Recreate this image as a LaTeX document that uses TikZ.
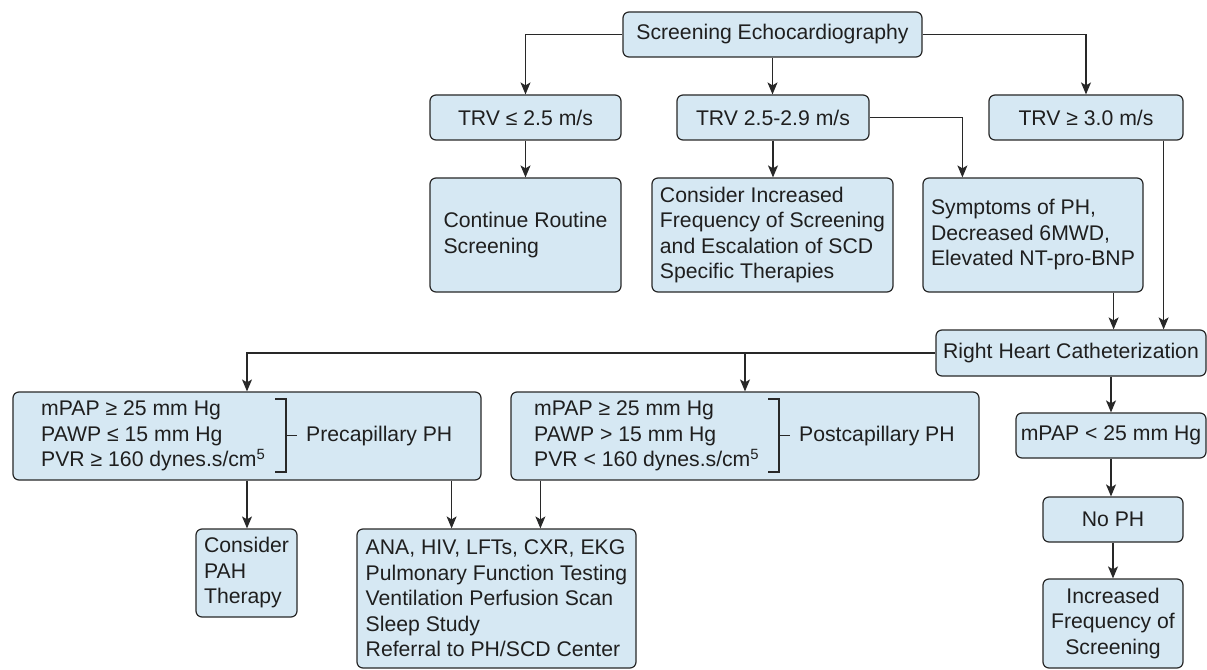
\documentclass[tikz,border=0pt]{standalone}
\usepackage{fontspec}
\setmainfont{Liberation Sans}
\usetikzlibrary{arrows.meta,calc}
\definecolor{boxfill}{RGB}{214,232,243}
\definecolor{linecol}{RGB}{40,40,40}
\begin{document}
\begin{tikzpicture}[x=1bp,y=-1bp,
  every node/.style={font=\fontsize{21.2bp}{25.5bp}\selectfont, text=black!88},
  box/.style={draw=linecol, fill=boxfill, line width=1.2bp, rounded corners=6bp, inner sep=0pt, anchor=center},
  tbox/.style={box, align=left},
  plain/.style={inner sep=0pt, align=left, anchor=west},
  conn/.style={draw=linecol, line width=1.2bp, -{Stealth[length=12bp,width=10bp,inset=3bp]}},
  brk/.style={draw=linecol, line width=1.2bp}
]
\path[fill=white, use as bounding box] (0,0) rectangle (1207,670);

% nodes
\node[box, minimum width=299bp, minimum height=45bp] (echo) at (772.5,34.5) {Screening Echocardiography};
\node[box, minimum width=191bp, minimum height=45bp] (trv1) at (525.5,117.5) {TRV ≤ 2.5 m/s};
\node[box, minimum width=192bp, minimum height=45bp] (trv2) at (773,117.5) {TRV 2.5-2.9 m/s};
\node[box, minimum width=194bp, minimum height=45bp] (trv3) at (1086,117.5) {TRV ≥ 3.0 m/s};

\node[tbox, minimum width=191bp, minimum height=114bp] (cont) at (525.5,235) {Continue Routine\\Screening};
\node[tbox, minimum width=241bp, minimum height=114bp] (consider) at (772.5,235) {Consider Increased\\Frequency of Screening\\and Escalation of SCD\\Specific Therapies};
\node[tbox, minimum width=220bp, minimum height=114bp] (symp) at (1033,235) {Symptoms of PH,\\Decreased 6MWD,\\Elevated NT-pro-BNP};

\node[box, minimum width=270bp, minimum height=46bp] (rhc) at (1071,353) {Right Heart Catheterization};

\node[box, minimum width=468bp, minimum height=88bp] (pre) at (247,436) {};
\node[box, minimum width=468bp, minimum height=88bp] (post) at (745,436) {};
\node[box, minimum width=190bp, minimum height=45bp] (mpap) at (1111,435.5) {mPAP < 25 mm Hg};
\node[box, minimum width=140bp, minimum height=45bp] (noph) at (1113,519.5) {No PH};
\node[box, align=center, minimum width=140bp, minimum height=89bp] (incf) at (1113,623.5) {Increased\\Frequency of\\Screening};

\node[tbox, minimum width=101bp, minimum height=88bp] (pah) at (246.5,573) {Consider\\PAH\\Therapy};
\node[tbox, minimum width=279bp, minimum height=139bp] (ana) at (496.5,598.5) {ANA, HIV, LFTs, CXR, EKG\\Pulmonary Function Testing\\Ventilation Perfusion Scan\\Sleep Study\\Referral to PH/SCD Center};

% precapillary contents
\node[plain] (pretext) at (41,436) {mPAP ≥ 25 mm Hg\\PAWP ≤ 15 mm Hg\\PVR ≥ 160 dynes.s/cm\textsuperscript{5}};
\draw[brk] (275,399) -- (286,399) -- (286,472) -- (275,472);
\draw[brk] (286,435.5) -- (297,435.5);
\node[plain] (prelabel) at (306,436) {Precapillary PH};

% postcapillary contents
\node[plain] (posttext) at (534,436) {mPAP ≥ 25 mm Hg\\PAWP > 15 mm Hg\\PVR < 160 dynes.s/cm\textsuperscript{5}};
\draw[brk] (768,399) -- (779,399) -- (779,472) -- (768,472);
\draw[brk] (779,435.5) -- (790,435.5);
\node[plain] (postlabel) at (799,436) {Postcapillary PH};

% connectors
\draw[conn] (echo.west) -| (trv1.north);
\draw[conn] (echo.south) -- (echo.south |- trv2.north);
\draw[conn] (echo.east) -| (trv3.north);
\draw[conn] (trv1) -- (cont);
\draw[conn] (trv2.south) -- (trv2.south |- consider.north);
\draw[conn] (trv2.east) -| ([xshift=40bp]symp.north west);
\draw[conn] ([xshift=-20bp]trv3.south east) -- ([xshift=-20bp]trv3.south east |- rhc.north);
\draw[conn] ([xshift=-30bp]symp.south east) -- ([xshift=-30bp]symp.south east |- rhc.north);
\draw[conn] (rhc.west) -| (pre.north);
\draw[conn] (post.north |- rhc.west) -- (post.north);
\draw[conn] (mpap.north |- rhc.south) -- (mpap.north);
\draw[conn] (mpap.south) -- (mpap.south |- noph.north);
\draw[conn] (noph) -- (incf);
\draw[conn] (pre.south) -- (pre.south |- pah.north);
\draw[conn] ([xshift=-30bp]pre.south east) -- ([xshift=-30bp]pre.south east |- ana.north);
\draw[conn] ([xshift=30bp]post.south west) -- ([xshift=30bp]post.south west |- ana.north);
\end{tikzpicture}
\end{document}
